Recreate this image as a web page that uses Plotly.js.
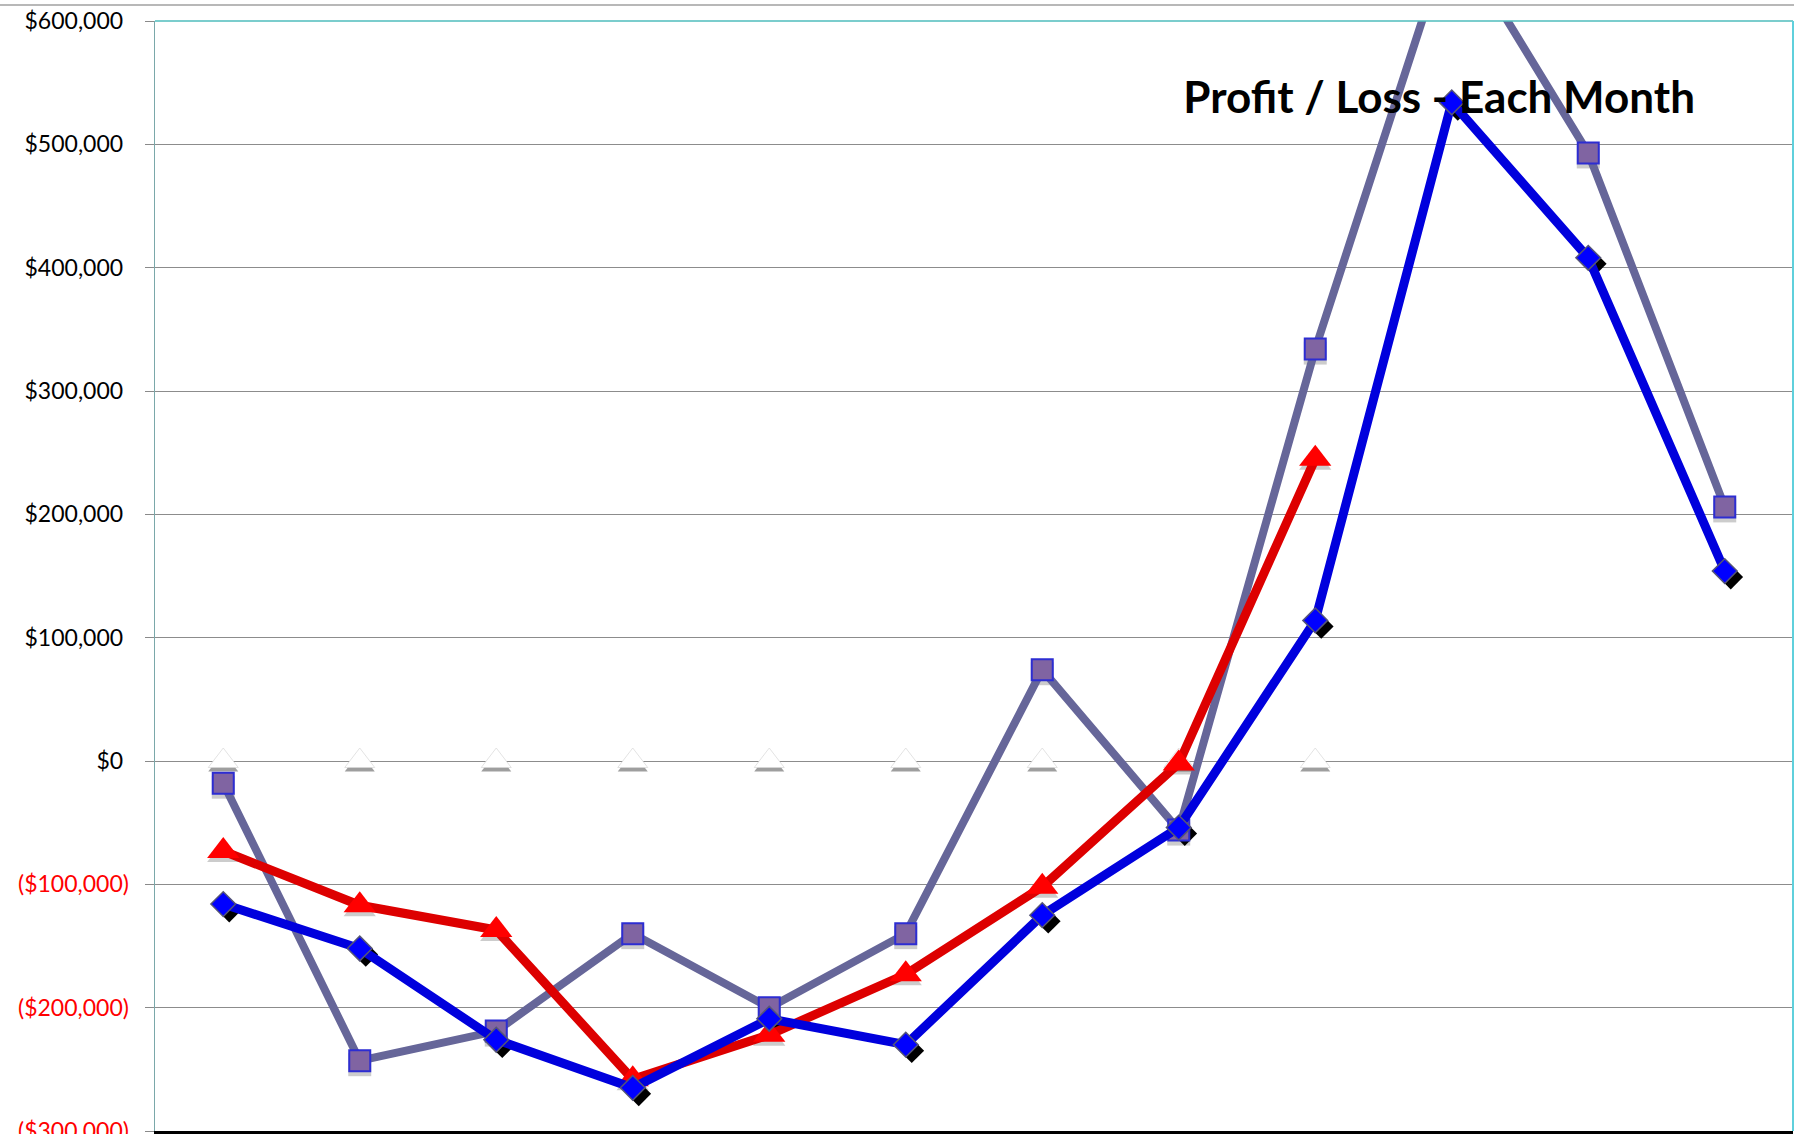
<!DOCTYPE html>
<html>
<head>
<meta charset="utf-8">
<script src="https://cdn.plot.ly/plotly-3.0.1.min.js"></script>
<style>
  html, body { margin: 0; padding: 0; background: #ffffff; }
  #wrap { position: relative; width: 1794px; height: 1134px; overflow: hidden; }
  /* thin grey rule above the chart frame */
  #topRule { position: absolute; left: 0; top: 4px; width: 100%; height: 2px; background: #b8b8b8; }
  #chart { position: absolute; left: 0; top: 0; width: 1794px; height: 1134px; }
</style>
</head>
<body>
<div id="wrap"><div id="topRule"></div><div id="chart"></div></div>
<script>
// -- Data ---------------------------------------------------------------------
var months = ['Jan', 'Feb', 'Mar', 'Apr', 'May', 'Jun',
              'Jul', 'Aug', 'Sep', 'Oct', 'Nov', 'Dec'];

// grey line, purple squares
var squareSeries = [-18000, -243000, -219000, -140000, -200000, -140000,
                    74000, -56000, 334000, 674000, 493000, 206000];
// blue line, blue diamonds
var diamondSeries = [-116000, -152000, -226000, -265000, -209000, -230000,
                     -125000, -54000, 114000, 534000, 408000, 154000];
// red line, red triangles (no values for the last three months)
var triangleSeries = [-73000, -117000, -137000, -258000, -222000, -173000,
                      -102000, -2000, 245000, null, null, null];
// faint white triangles sitting on the zero line
var zeroSeries = [0, 0, 0, 0, 0, 0, 0, 0, 0, null, null, null];

var yTickVals = [-300000, -200000, -100000, 0, 100000, 200000, 300000, 400000, 500000, 600000];
var yTickText = ['($300,000)', '($200,000)', '($100,000)', '$0', '$100,000',
                 '$200,000', '$300,000', '$400,000', '$500,000', '$600,000'];

var chartTitle = 'Profit / Loss - Each Month';

// -- Theme --------------------------------------------------------------------
var FONT = 'Lato, "Open Sans", sans-serif';
var Y_MIN = -300000, Y_MAX = 600000;
var X_MIN = -0.5, X_MAX = 11.5;

// shadow offsets, in axis units (plot is 1638px / 12 cats, 1110px / 900k)
var PX_X = (X_MAX - X_MIN) / 1638;
var PX_Y = (Y_MAX - Y_MIN) / 1110;
var HARD_DX = 6 * PX_X, HARD_DY = 6 * PX_Y;   // black diamond shadow
var SOFT_DY = 4 * PX_Y;                        // grey drop shadow

// Excel-style number format: negatives red in parentheses, positives padded
// on the right by roughly the width of the closing parenthesis.
var tickText = yTickText.map(function (t, i) {
  return yTickVals[i] < 0 ? '<span style="color:#ff0000">' + t + '</span>' : t + '\u2005';
});

function hiddenAxis(overlay, range) {
  return { type: 'category', overlaying: overlay, visible: false, showgrid: false,
           zeroline: false, fixedrange: true, range: range };
}

// -- Traces -------------------------------------------------------------------
var traces = [];

// base subplot only carries the visible axes
traces.push({ type: 'scatter', x: [], y: [], xaxis: 'x', yaxis: 'y',
              hoverinfo: 'skip', showlegend: false });

// soft shadows (x3/y3)
[[zeroSeries, 'triangle-up', 26, 'rgba(0,0,0,0.38)'],
 [squareSeries, 'square', 23, 'rgba(0,0,0,0.2)'],
 [triangleSeries, 'triangle-up', 28, 'rgba(0,0,0,0.2)']].forEach(function (s) {
  traces.push({
    type: 'scatter', mode: 'markers', x: months, y: s[0],
    xaxis: 'x3', yaxis: 'y3',
    marker: { symbol: s[1], size: s[2], color: s[3], line: { width: 0 } },
    hoverinfo: 'skip', showlegend: false
  });
});

// hard diamond shadow (x2/y2)
traces.push({
  type: 'scatter', mode: 'markers', x: months, y: diamondSeries,
  xaxis: 'x2', yaxis: 'y2',
  marker: { symbol: 'diamond', size: 19, color: '#000000', line: { width: 0 } },
  hoverinfo: 'skip', showlegend: false
});

// main series (x4/y4, same scale as the visible axes)
traces.push({
  type: 'scatter', mode: 'markers', x: months, y: zeroSeries, name: 'zero',
  xaxis: 'x4', yaxis: 'y4',
  marker: { symbol: 'triangle-up', size: 26, color: '#ffffff',
            line: { color: 'rgba(215,215,215,0.7)', width: 1 } },
  showlegend: false
});
traces.push({
  type: 'scatter', mode: 'lines+markers', x: months, y: squareSeries, name: 'squares',
  xaxis: 'x4', yaxis: 'y4',
  line: { color: '#666699', width: 8 },
  marker: { symbol: 'square', size: 21, color: '#8064a2',
            line: { color: '#2d2dd2', width: 2 } },
  showlegend: false
});
traces.push({
  type: 'scatter', mode: 'lines+markers', x: months, y: triangleSeries, name: 'triangles',
  xaxis: 'x4', yaxis: 'y4',
  line: { color: '#dd0000', width: 9 },
  marker: { symbol: 'triangle-up', size: 28, color: '#ff0000', line: { width: 0 } },
  connectgaps: false, showlegend: false
});
traces.push({
  type: 'scatter', mode: 'lines+markers', x: months, y: diamondSeries, name: 'diamonds',
  xaxis: 'x4', yaxis: 'y4',
  line: { color: '#0000dd', width: 9 },
  marker: { symbol: 'diamond', size: 19, color: '#0000ff',
            line: { color: '#555577', width: 1.5 } },
  showlegend: false
});

// -- Layout -------------------------------------------------------------------
var layout = {
  width: 1794,
  height: 1134,
  margin: { l: 155, r: 1, t: 21, b: 3 },
  paper_bgcolor: 'rgba(0,0,0,0)',
  plot_bgcolor: '#ffffff',
  font: { family: FONT, color: '#000000', size: 23 },
  showlegend: false,
  title: {
    text: '<b>' + chartTitle + '</b>',
    font: { family: FONT, size: 44, color: '#000000' },
    xref: 'paper', yref: 'paper',
    x: 0.784, xanchor: 'center',
    y: 0.931, yanchor: 'middle'
  },
  xaxis: {
    type: 'category',
    range: [X_MIN, X_MAX],
    showticklabels: false,
    tickson: 'boundaries',
    ticks: 'outside', ticklen: 6, tickcolor: '#888888',
    showgrid: false, zeroline: false,
    showline: true, linecolor: '#000000', linewidth: 3,
    fixedrange: true
  },
  yaxis: {
    range: [Y_MIN, Y_MAX],
    tickvals: yTickVals,
    ticktext: tickText,
    ticks: 'outside', ticklen: 9, tickcolor: '#8a8a8a', tickwidth: 1,
    ticklabelstandoff: 11,
    ticklabeloverflow: 'allow',   // the bottom label is cut by the picture edge
    tickfont: { family: FONT, size: 23, color: '#000000' },
    showgrid: true, gridcolor: '#8c8c8c', gridwidth: 1,
    zeroline: false,
    showline: true, linecolor: '#7aa8aa', linewidth: 1.5,
    fixedrange: true
  },
  xaxis2: hiddenAxis('x', [X_MIN - HARD_DX, X_MAX - HARD_DX]),
  yaxis2: hiddenAxis('y', [Y_MIN + HARD_DY, Y_MAX + HARD_DY]),
  xaxis3: hiddenAxis('x', [X_MIN, X_MAX]),
  yaxis3: hiddenAxis('y', [Y_MIN + SOFT_DY, Y_MAX + SOFT_DY]),
  xaxis4: hiddenAxis('x', [X_MIN, X_MAX]),
  yaxis4: hiddenAxis('y', [Y_MIN, Y_MAX]),
  shapes: [
    // teal frame on top and right of the plot area
    { type: 'line', xref: 'paper', yref: 'paper', x0: 0, x1: 1, y0: 1, y1: 1,
      line: { color: '#4fbcbc', width: 1.5 } },
    { type: 'line', xref: 'paper', yref: 'paper', x0: 1, x1: 1, y0: 0, y1: 1,
      line: { color: '#5fd0dc', width: 2 } }
  ]
};
// y overlay axes are linear
['yaxis2', 'yaxis3', 'yaxis4'].forEach(function (k) { layout[k].type = 'linear'; });

Plotly.newPlot('chart', traces, layout, { displayModeBar: false, staticPlot: true });
</script>
</body>
</html>
